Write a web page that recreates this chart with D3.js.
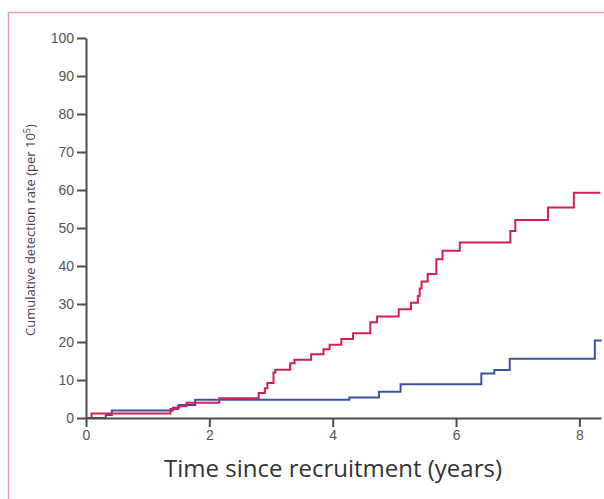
<!DOCTYPE html>
<html>
<head>
<meta charset="utf-8">
<script src="https://cdn.jsdelivr.net/npm/d3@7"></script>
<style>
  body { margin: 0; background: #fff; }
  svg { display: block; font-family: "Open Sans", "Noto Sans", sans-serif; }
</style>
</head>
<body>
<svg width="604" height="499"></svg>
<script>
// step-curve values (time in years, rate per 10^5)
const redTimes = [0, 0.09, 1.37, 1.49, 1.63, 2.16, 2.80, 2.90, 2.94, 3.04, 3.07, 3.31, 3.38, 3.65, 3.85, 3.95, 4.14, 4.33, 4.61, 4.72, 5.07, 5.27, 5.38, 5.41, 5.44, 5.54, 5.68, 5.78, 6.06, 6.88, 6.96, 7.49, 7.91, 8.34];
const redValues = [0, 1.2, 2.4, 3.1, 4.0, 5.2, 6.6, 7.8, 9.2, 12.0, 12.7, 14.4, 15.3, 16.8, 18.1, 19.3, 20.8, 22.3, 25.2, 26.7, 28.6, 30.3, 32.1, 34.1, 35.9, 37.9, 41.8, 44.0, 46.2, 49.2, 52.1, 55.4, 59.3, 59.3];

const blueTimes = [0, 0.32, 0.42, 1.41, 1.51, 1.77, 4.27, 4.75, 5.10, 6.41, 6.62, 6.87, 8.25, 8.36];
const blueValues = [0, 0.8, 2.0, 2.7, 3.4, 4.8, 5.4, 6.9, 8.9, 11.7, 12.6, 15.6, 20.4, 20.4];

const xTicks = [0, 2, 4, 6, 8];
const yTicks = [0, 10, 20, 30, 40, 50, 60, 70, 80, 90, 100];

const svg = d3.select("svg");

const margin = { top: 38, right: 3, bottom: 81, left: 86 };
const width = +svg.attr("width");
const height = +svg.attr("height");

// pink frame round the figure
svg.append("rect")
  .attr("x", 8.5)
  .attr("y", 12.5)
  .attr("width", 700)
  .attr("height", 600)
  .attr("fill", "none")
  .attr("stroke", "#eb9db3")
  .attr("stroke-width", 1.5);

const x = d3.scaleLinear()
  .domain([0, 8.35])
  .range([margin.left, width - margin.right]);

const y = d3.scaleLinear()
  .domain([0, 100])
  .range([height - margin.bottom, margin.top]);

const toPoints = (times, values) => times.map((t, i) => [t, values[i]]);

const line = d3.line()
  .x((d) => x(d[0]))
  .y((d) => y(d[1]))
  .curve(d3.curveStepAfter);

const series = [
  { points: toPoints(blueTimes, blueValues), color: "#3a52a3" },
  { points: toPoints(redTimes, redValues), color: "#d41f52" }
];

svg.selectAll(".curve")
  .data(series)
  .enter().append("path")
  .attr("class", "curve")
  .attr("d", (s) => line(s.points))
  .attr("fill", "none")
  .attr("stroke", (s) => s.color)
  .attr("stroke-width", 2)
  .attr("stroke-linejoin", "miter");

const styleAxis = (g) => {
  g.select(".domain").attr("stroke", "#4d4d4d").attr("stroke-width", 2);
  g.selectAll(".tick line").attr("stroke", "#4d4d4d").attr("stroke-width", 2);
  g.selectAll(".tick text").attr("fill", "#555").attr("font-size", 14);
};

svg.append("g")
  .attr("transform", `translate(0, ${y(0)})`)
  .call(d3.axisBottom(x).tickValues(xTicks).tickSize(9).tickSizeOuter(0).tickPadding(3))
  .call(styleAxis);

svg.append("g")
  .attr("transform", `translate(${x(0)}, 0)`)
  .call(d3.axisLeft(y).tickValues(yTicks).tickSize(9).tickSizeOuter(0).tickPadding(3))
  .call(styleAxis);

svg.selectAll(".domain").attr("fill", "none");

svg.append("text")
  .attr("x", 333)
  .attr("y", 477)
  .attr("text-anchor", "middle")
  .attr("font-size", 24)
  .attr("fill", "#333")
  .text("Time since recruitment (years)");

const yLabel = svg.append("text")
  .attr("transform", `translate(35, ${230}) rotate(-90)`)
  .attr("text-anchor", "middle")
  .attr("font-size", 13)
  .attr("fill", "#444");
yLabel.append("tspan").text("Cumulative detection rate (per 10");
yLabel.append("tspan").attr("font-size", 9).attr("dy", -5).text("5");
yLabel.append("tspan").attr("dy", 5).text(")");
</script>
</body>
</html>
